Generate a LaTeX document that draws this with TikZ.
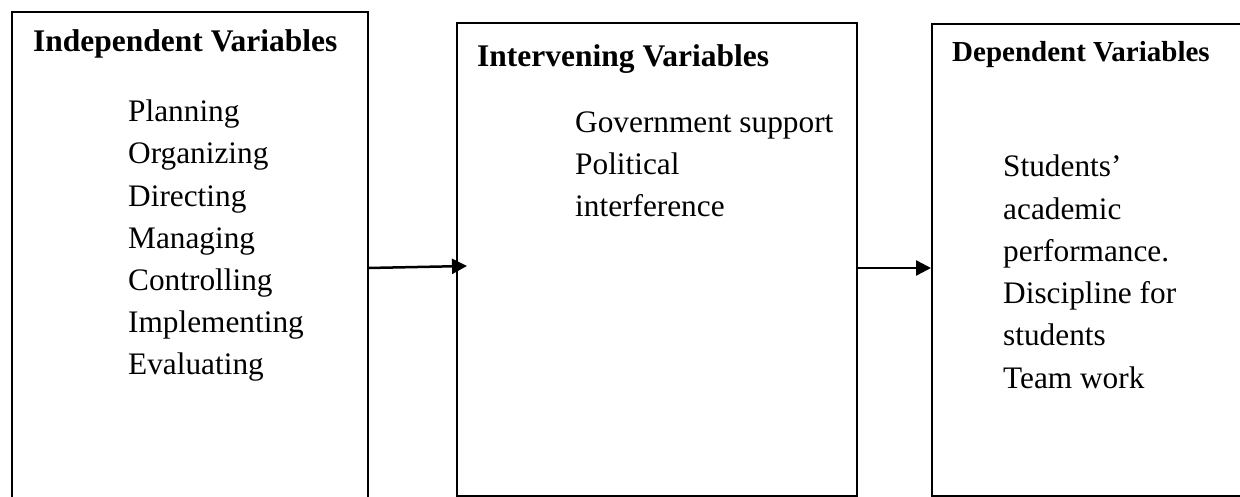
\documentclass[tikz,border=0pt]{standalone}
\usepackage{fontspec}
\setmainfont{Liberation Serif}
\usetikzlibrary{arrows.meta}
\tikzset{
  boxshape/.style={draw, line width=1.2pt, inner sep=0pt, outer sep=0pt, anchor=north west},
  titletext/.style={anchor=base west, inner sep=0pt, font=\fontsize{31.5}{38}\selectfont\bfseries},
  smalltitle/.style={anchor=base west, inner sep=0pt, font=\fontsize{29}{35}\selectfont\bfseries},
  itemtext/.style={anchor=base west, inner sep=0pt, font=\fontsize{31.3}{38}\selectfont},
  linkarrow/.style={line width=2.5pt, -{Triangle[length=15pt,width=15pt]}}
}
\begin{document}
\begin{tikzpicture}[x=1pt,y=-1pt]
\useasboundingbox (0,0) rectangle (1240,497);
% boxes
\node[boxshape, minimum width=356pt, minimum height=500pt] (b1) at (12,12) {};
\node[boxshape, minimum width=400pt, minimum height=473pt] (b2) at (457,23) {};
\node[boxshape, minimum width=330pt, minimum height=472pt] (b3) at (932,24) {};
% titles
\node[titletext] (t1) at (33,52) {Independent Variables};
\node[titletext] (t2) at (477,67) {Intervening Variables};
\node[smalltitle] (t3) at (952,62) {Dependent Variables};
% items
\foreach \txt [count=\i] in {Planning,Organizing,Directing,Managing,Controlling,Implementing,Evaluating}
  \node[itemtext] (i\i) at (128,{121.7+42.2*(\i-1)}) {\txt};
\foreach \txt [count=\i] in {Government support,Political,interference}
  \node[itemtext] (m\i) at (575,{133+42*(\i-1)}) {\txt};
\foreach \txt [count=\i] in {Students’,academic,performance.,Discipline for,students,Team work}
  \node[itemtext] (d\i) at (1003,{177+42.2*(\i-1)}) {\txt};
% arrows
\coordinate (a1s) at (b1.east |- 0,268);
\coordinate (a1e) at (467,266);
\coordinate (a2s) at (b2.east |- 0,268);
\coordinate (a2e) at (931,268);
\draw[linkarrow] (a1s) -- (a1e);
\draw[linkarrow] (a2s) -- (a2e);
\end{tikzpicture}
\end{document}
